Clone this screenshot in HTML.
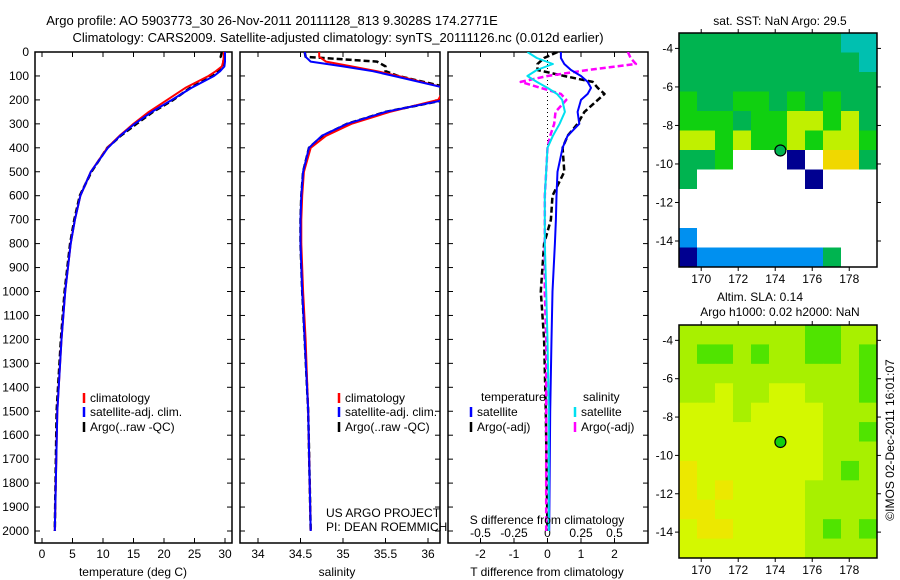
<!DOCTYPE html>
<html><head><meta charset="utf-8"><style>
body{margin:0;background:#fff;}
svg{display:block;font-family:"Liberation Sans",sans-serif;}
text{fill:#000;}
</style></head><body>
<svg id="fig" width="900" height="580" viewBox="0 0 900 580" xmlns="http://www.w3.org/2000/svg">
<text x="272" y="25" font-size="13" text-anchor="middle">Argo profile: AO 5903773_30 26-Nov-2011 20111128_813 9.3028S 174.2771E</text>
<text x="338" y="42" font-size="13" text-anchor="middle">Climatology: CARS2009. Satellite-adjusted climatology: synTS_20111126.nc (0.012d earlier)</text>
<g id="g1"></g>
<g id="g2"></g>
<g id="g3"></g>
<g id="m1"></g>
<g id="m2"></g>
<text x="780" y="25" font-size="12" text-anchor="middle">sat. SST: NaN Argo: 29.5</text>
<text x="760" y="301" font-size="12" text-anchor="middle">Altim. SLA: 0.14</text>
<text x="780" y="316" font-size="12" text-anchor="middle">Argo h1000: 0.02 h2000: NaN</text>
<text transform="translate(894,440) rotate(-90)" font-size="12" text-anchor="middle">©IMOS 02-Dec-2011 16:01:07</text>
<text x="326" y="517" font-size="12">US ARGO PROJECT</text>
<text x="326" y="531" font-size="12">PI: DEAN ROEMMICH</text>
</svg>
<script>
// ---- data ----
const depths = [0,20,40,60,80,100,150,200,250,300,350,400,500,600,700,800,1000,1200,1500,2000];
const tempClim = [29.8,29.8,29.7,29.5,28.5,27.3,23.5,20.5,17.5,15.0,12.7,10.7,8.0,6.3,5.4,4.7,3.8,3.2,2.5,2.1];
const tempSat  = [30.0,30.0,30.0,29.9,29.2,28.2,24.5,21.3,18.0,15.2,12.8,10.8,8.0,6.3,5.4,4.7,3.8,3.2,2.5,2.1];
const tempArgo = [29.5,29.3,29.8,29.6,29.0,28.0,24.3,21.5,18.2,15.5,12.9,10.7,8.1,6.2,5.3,4.6,3.7,3.1,2.4,2.1];
const salClim = [34.72,34.72,34.8,35.1,35.4,35.65,36.2,36.12,35.55,35.1,34.8,34.62,34.54,34.52,34.51,34.51,34.53,34.56,34.59,34.62];
const salSat  = [34.55,34.56,34.62,35.0,35.35,35.6,36.2,36.2,35.5,35.05,34.75,34.6,34.53,34.51,34.5,34.5,34.52,34.55,34.59,34.62];
const salArgo = [34.55,34.56,35.4,35.5,35.5,35.65,36.25,36.2,35.5,35.05,34.76,34.6,34.53,34.51,34.5,34.5,34.52,34.55,34.59,34.62];
const diffDepths = [0,25,50,75,100,125,150,175,200,250,300,350,400,500,600,700,800,1000,1200,1500,2000];
const tDiffSat  = [0.4,0.4,0.5,0.7,1.0,1.2,1.3,1.2,1.0,0.9,0.95,0.6,0.45,0.3,0.27,0.25,0.22,0.15,0.12,0.08,0.05];
const tDiffArgo = [0.3,-0.1,-0.3,-0.3,0.5,1.35,1.5,1.7,1.5,1.1,0.9,0.6,0.45,0.5,0.15,0.1,-0.1,-0.2,-0.1,-0.05,0];
const sDiffSat  = [-0.15,-0.08,0.04,-0.08,-0.15,-0.08,0,0.07,0.11,0.13,0.09,0.04,0,-0.01,-0.02,-0.02,-0.02,-0.01,0,0.01,0.01];
const sDiffArgo = [0.6,0.62,0.66,0.3,0,-0.2,-0.05,0.1,0.14,0.06,0.05,0.02,0,-0.01,-0.02,-0.02,-0.02,-0.02,-0.01,-0.01,-0.01];
const depthTicks = [0,100,200,300,400,500,600,700,800,900,1000,1100,1200,1300,1400,1500,1600,1700,1800,1900,2000];
const tempTicks = [0,5,10,15,20,25,30];
const salTicks = [34,34.5,35,35.5,36];
const salTickLabels = ["34","34.5","35","35.5","36"];
const tdTicks = [-2,-1,0,1,2];
const sdTicks = [-0.5,-0.25,0,0.25,0.5];
const sdTickLabels = ["-0.5","-0.25","0","0.25","0.5"];
const lonTicks = [170,172,174,176,178];
const latTicks = [-4,-6,-8,-10,-12,-14];
const argoLon = 174.28, argoLat = -9.30;
// map grids: rows from north (-3.2) to south, 1-degree cols from 168.8
const sstRows = ["GGGGGGGGGCC","GGGGGGGGGGC","GGGGGGGGGGG","LGGLLGLGLGG","LLLGLLYYLYG","YYLYLLYLYYL","GGLWWWNWOOG","GWWWWWWNWWW","WWWWWWWWWWW","WWWWWWWWWWW","BWWWWWWWWWW","NBBBBBBBGWW"];
const slaRows = ["LLLLLLLGGLL","LGGLGLLGGLG","LLLLLLLLLLG","LLYLLYYLLLG","YYYLYYYYLLL","YYYYYYYYLLG","YYYYYYYYLLL","OYYYYYYYLGL","OYOYYYYLLLL","OOYYYYYLLLL","YOOYYYYLGLG","YYYYYYYLLLL"];
const sstColors = {G:"#00b450",L:"#10d010",Y:"#c0f000",O:"#f0d800",C:"#00c0b0",B:"#0090f0",N:"#000090",W:"#ffffff"};
const slaColors = {L:"#a8f000",G:"#50e400",Y:"#d4f800",O:"#ece800"};

const NS="http://www.w3.org/2000/svg";
function mk(parent,tag,attrs){const e=document.createElementNS(NS,tag);for(const k in attrs)e.setAttribute(k,attrs[k]);parent.appendChild(e);return e;}
const top0=52, pxPerM=0.2395, yBot=543;
const yD = d => top0 + d*pxPerM;
const P1={x0:35,x1:232}, P2={x0:240,x1:440}, P3={x0:448,x1:648};
const xT = t => 42 + t*6.1;
const xS = s => 258 + (s-34)*85;
const xTD = v => 547.5 + v*33.5;
const xSD = v => 547.5 + v*134;

function frame(g,P,name){
  const r=mk(g,'rect',{x:P.x0,y:top0,width:P.x1-P.x0,height:yBot-top0,fill:'none',stroke:'#000','stroke-width':1.5});
  
  
  const c=mk(g,'clipPath',{id:'c'+name});mk(c,'rect',{x:P.x0,y:top0,width:P.x1-P.x0,height:yBot-top0});
  return 'url(#c'+name+')';
}
function line(g,xs,ys,xf,color,w,dash,clip,name){
  const pts=xs.map((v,i)=>xf(v).toFixed(1)+','+yD(ys[i]).toFixed(1)).join(' ');
  const p=mk(g,'polyline',{points:pts,fill:'none',stroke:color,'stroke-width':w,'clip-path':clip,'stroke-linejoin':'round'});
  if(dash)p.setAttribute('stroke-dasharray',dash);
  
  
}
function xticks(g,vals,labels,xf,y,name){
  vals.forEach((v,i)=>{
    const x=xf(v);
    mk(g,'line',{x1:x,y1:yBot,x2:x,y2:yBot-5,stroke:'#000'});
    mk(g,'line',{x1:x,y1:top0,x2:x,y2:top0+5,stroke:'#000'});
    const t=mk(g,'text',{x:x,y:y,'font-size':12,'text-anchor':'middle'});
    t.textContent=labels[i];
    
    
  });
}
function legendEntry(g,x,y,color,label){
  const l=mk(g,'line',{x1:x,y1:y-9,x2:x,y2:y+1,stroke:color,'stroke-width':2.5});
  
  
  const t=mk(g,'text',{x:x+6,y:y,'font-size':12});t.textContent=label;
  
  
}
// panel 1
const g1=document.getElementById('g1');
const c1=frame(g1,P1,'temperature-frame');
depthTicks.forEach(d=>{
  mk(g1,'line',{x1:P1.x0,y1:yD(d),x2:P1.x0+5,y2:yD(d),stroke:'#000'});
  mk(g1,'line',{x1:P1.x1,y1:yD(d),x2:P1.x1-5,y2:yD(d),stroke:'#000'});
  const t=mk(g1,'text',{x:29,y:yD(d)+4,'font-size':12,'text-anchor':'end'});t.textContent=d;
  
  
});
xticks(g1,tempTicks,tempTicks.map(String),xT,558,'temperature-tick-label');
line(g1,tempArgo,depths,xT,'#000',2.5,'6,3',c1,'temperature-argo-line');
line(g1,tempClim,depths,xT,'#ff0000',2,null,c1,'temperature-climatology-line');
line(g1,tempSat,depths,xT,'#0000ff',2,null,c1,'temperature-satellite-line');
const xl1=mk(g1,'text',{x:133,y:576,'font-size':12,'text-anchor':'middle'});xl1.textContent='temperature (deg C)';


legendEntry(g1,84,402,'#ff0000','climatology');
legendEntry(g1,84,416,'#0000ff','satellite-adj. clim.');
legendEntry(g1,84,431,'#000','Argo(..raw -QC)');
// panel 2
const g2=document.getElementById('g2');
const c2=frame(g2,P2,'salinity-frame');
depthTicks.forEach(d=>{
  mk(g2,'line',{x1:P2.x0,y1:yD(d),x2:P2.x0+5,y2:yD(d),stroke:'#000'});
  mk(g2,'line',{x1:P2.x1,y1:yD(d),x2:P2.x1-5,y2:yD(d),stroke:'#000'});
});
xticks(g2,salTicks,salTickLabels,xS,558,'salinity-tick-label');
line(g2,salArgo,depths,xS,'#000',2.5,'6,3',c2,'salinity-argo-line');
line(g2,salClim,depths,xS,'#ff0000',2,null,c2,'salinity-climatology-line');
line(g2,salSat,depths,xS,'#0000ff',2,null,c2,'salinity-satellite-line');
const xl2=mk(g2,'text',{x:337,y:576,'font-size':12,'text-anchor':'middle'});xl2.textContent='salinity';


legendEntry(g2,339,402,'#ff0000','climatology');
legendEntry(g2,339,416,'#0000ff','satellite-adj. clim.');
legendEntry(g2,339,431,'#000','Argo(..raw -QC)');
// panel 3
const g3=document.getElementById('g3');
const c3=frame(g3,P3,'difference-frame');
depthTicks.forEach(d=>{
  mk(g3,'line',{x1:P3.x0,y1:yD(d),x2:P3.x0+5,y2:yD(d),stroke:'#000'});
  mk(g3,'line',{x1:P3.x1,y1:yD(d),x2:P3.x1-5,y2:yD(d),stroke:'#000'});
});
mk(g3,'line',{x1:xTD(0),y1:top0,x2:xTD(0),y2:150,stroke:'#000','stroke-dasharray':'1,3'});
xticks(g3,tdTicks,tdTicks.map(String),xTD,558,'t-diff-tick-label');
sdTicks.forEach((v,i)=>{
  const t=mk(g3,'text',{x:xSD(v),y:537,'font-size':12,'text-anchor':'middle'});t.textContent=sdTickLabels[i];
  
  
});
line(g3,tDiffArgo,diffDepths,xTD,'#000',2.5,'6,3',c3,'t-diff-argo-line');
line(g3,sDiffArgo,diffDepths,xSD,'#ff00ff',2.5,'6,3',c3,'s-diff-argo-line');
line(g3,tDiffSat,diffDepths,xTD,'#0000ff',2,null,c3,'t-diff-satellite-line');
line(g3,sDiffSat,diffDepths,xSD,'#00e0f0',2,null,c3,'s-diff-satellite-line');
const st=mk(g3,'text',{x:547,y:524,'font-size':12,'text-anchor':'middle'});st.textContent='S difference from climatology';


const tt=mk(g3,'text',{x:547,y:576,'font-size':12,'text-anchor':'middle'});tt.textContent='T difference from climatology';


const lt1=mk(g3,'text',{x:481,y:401,'font-size':12});lt1.textContent='temperature';


const lt2=mk(g3,'text',{x:583,y:401,'font-size':12});lt2.textContent='salinity';


legendEntry(g3,471,416,'#0000ff','satellite');
legendEntry(g3,471,431,'#000','Argo(-adj)');
legendEntry(g3,575,416,'#00e0f0','satellite');
legendEntry(g3,575,431,'#ff00ff','Argo(-adj)');
// maps
function drawMap(id,M,rows,colors,markerFill,name){
  const g=document.getElementById(id);
  const lon0=168.8, lon1=179.5, lat0=-3.2, lat1=-15.35;
  const xL=v=>M.x0+(v-lon0)/(lon1-lon0)*(M.x1-M.x0);
  const yL=v=>M.y0+(v-lat0)/(lat1-lat0)*(M.y1-M.y0);
  const nr=rows.length, nc=rows[0].length;
  const cw=(M.x1-M.x0)/nc, ch=(M.y1-M.y0)/nr;
  rows.forEach((row,r)=>{
    [...row].forEach((k,c)=>{
      const cell=mk(g,'rect',{x:M.x0+c*cw,y:M.y0+r*ch,width:cw+0.5,height:ch+0.5,fill:colors[k]});
      
      
    });
  });
  const f=mk(g,'rect',{x:M.x0,y:M.y0,width:M.x1-M.x0,height:M.y1-M.y0,fill:'none',stroke:'#000','stroke-width':1.5});
  
  
  lonTicks.forEach(v=>{
    const x=xL(v);
    mk(g,'line',{x1:x,y1:M.y0,x2:x,y2:M.y0-4,stroke:'#000'});
    mk(g,'line',{x1:x,y1:M.y1,x2:x,y2:M.y1+4,stroke:'#000'});
    const t=mk(g,'text',{x:x,y:M.y1+16,'font-size':12,'text-anchor':'middle'});t.textContent=v;
    
    
  });
  latTicks.forEach(v=>{
    const y=yL(v);
    mk(g,'line',{x1:M.x0,y1:y,x2:M.x0-4,y2:y,stroke:'#000'});
    mk(g,'line',{x1:M.x1,y1:y,x2:M.x1+4,y2:y,stroke:'#000'});
    const t=mk(g,'text',{x:M.x0-6,y:y+4,'font-size':12,'text-anchor':'end'});t.textContent=v;
    
    
  });
  const m=mk(g,'circle',{cx:xL(argoLon),cy:yL(argoLat),r:5.5,fill:markerFill,stroke:'#000','stroke-width':1.2});
  
  
}
drawMap('m1',{x0:679,x1:877,y0:33,y1:267},sstRows,sstColors,'#00b450','sst-map');
drawMap('m2',{x0:679,x1:877,y0:325,y1:558},slaRows,slaColors,'#10d010','sla-map');
</script>
</body></html>
